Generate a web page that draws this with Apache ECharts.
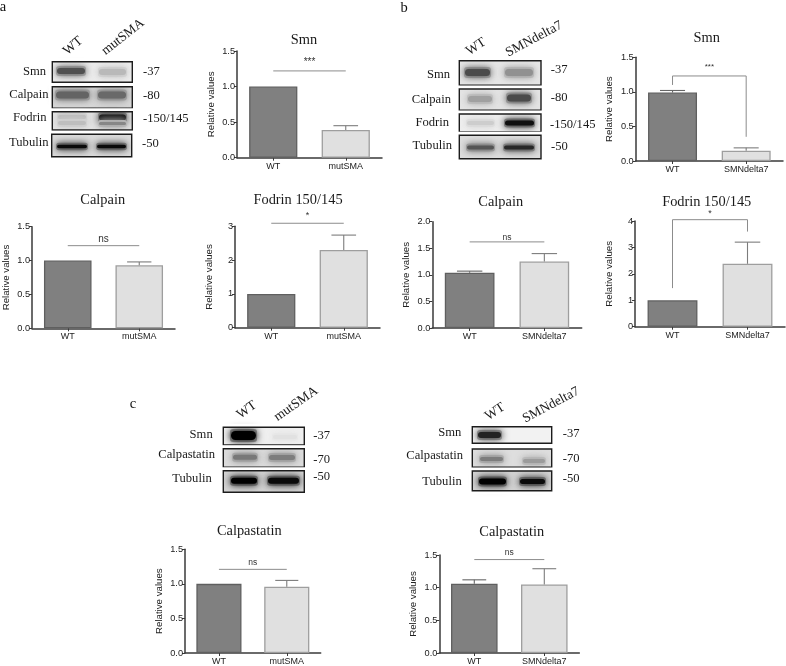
<!DOCTYPE html>
<html><head><meta charset="utf-8">
<style>html,body{margin:0;padding:0;background:#fff}#c{width:786px;height:666px}</style>
<script src="https://cdn.jsdelivr.net/npm/echarts@6/dist/echarts.min.js"></script>
</head><body><div id="c"></div>
<script>
// ---- data ----
const chartTitles = ['Smn','Calpain','Fodrin 150/145','Smn','Calpain','Fodrin 150/145','Calpastatin','Calpastatin'];
const chartCategories = [
  ['WT','mutSMA'],['WT','mutSMA'],['WT','mutSMA'],
  ['WT','SMNdelta7'],['WT','SMNdelta7'],['WT','SMNdelta7'],
  ['WT','mutSMA'],['WT','SMNdelta7']];
const barValues = [[1,0.39],[1,0.93],[1,2.3],[0.99,0.15],[1.04,1.25],[1,2.38],[1,0.96],[1.06,1.05]];
const errorTops = [[null,0.45],[null,0.98],[null,2.74],[1.02,0.19],[1.07,1.40],[null,3.2],[null,1.05],[1.12,1.29]];
const axisMaxes = [1.5,1.5,3,1.5,2,4,1.5,1.5];
const axisSteps = [0.5,0.5,1,0.5,0.5,1,0.5,0.5];
const sigLabels = ['***','ns','*','***','ns','*','ns','ns'];
const sigLevels = [1.22,1.22,3.09,1.23,1.62,4.05,1.21,1.43];
const sigDropLeft = [null,null,null,1.1,null,1.46,null,null];
const sigDropRight = [null,null,null,0.35,null,3.6,null,null];

// ---- layout ----
const gridBoxes = [ // left, right, top, bottom (px)
  [237,382,51,157.7],[31,175,226.7,328.3],[235,380,226.3,327.7],
  [635.7,783,57.3,161],[432.3,581.7,221.7,328],[635,785,221,326.7],
  [185,320.7,549.3,654],[439.3,579.3,555,653.7]];
const titleCentres = [[304,40.7],[102.7,200.7],[298,200.7],[706.7,38.3],[500.7,202.3],[706.7,202.3],[249.3,531.7],[511.7,532]];
const sigTextGaps = [9,6,8,9,4,6,7,7];
const sigTextSizes = [10,10,9,8,8.5,9,8.5,8.5];

const SANS = '"Liberation Sans", Arial, sans-serif';
const SERIF = '"Liberation Serif", "Times New Roman", serif';
const AXIS = '#3a3a3a';

const grids=[],xAxes=[],yAxes=[],series=[],titles=[];
gridBoxes.forEach((b,i)=>{
  grids.push({left:b[0],top:b[2],width:b[1]-b[0],height:b[3]-b[2],containLabel:false});
  titles.push({text:chartTitles[i],left:titleCentres[i][0],top:titleCentres[i][1]-7,textAlign:'center',padding:0,
    textStyle:{fontFamily:SERIF,fontSize:14.4,fontWeight:'normal',color:'#1a1a1a'}});
  xAxes.push({type:'category',gridIndex:i,data:chartCategories[i],
    axisLine:{lineStyle:{color:AXIS,width:1.5}},
    axisTick:{show:true,alignWithLabel:true,length:3,lineStyle:{color:AXIS,width:1}},
    axisLabel:{fontFamily:SANS,fontSize:9,color:'#222',margin:4,interval:0}});
  const step=axisSteps[i];
  yAxes.push({type:'value',gridIndex:i,min:0,max:axisMaxes[i],interval:step,
    name:'Relative values',nameLocation:'middle',nameRotate:90,nameGap:21,
    nameTextStyle:{fontFamily:SANS,fontSize:9.7,color:'#222'},
    splitLine:{show:false},
    axisLine:{show:true,lineStyle:{color:AXIS,width:1.5}},
    axisTick:{show:true,length:3,lineStyle:{color:AXIS,width:1}},
    axisLabel:{fontFamily:SANS,fontSize:9.2,color:'#222',margin:2,
      formatter:v=>step<1?v.toFixed(1):String(v)}});
  series.push({type:'bar',xAxisIndex:i,yAxisIndex:i,barWidth:'66.5%',silent:true,
    data:barValues[i].map((v,k)=>({value:v,itemStyle:k===0
      ?{color:'#808080',borderColor:'#5f5f5f',borderWidth:1.3}
      :{color:'#e0e0e0',borderColor:'#9e9e9e',borderWidth:1.3}}))});
  series.push({type:'custom',xAxisIndex:i,yAxisIndex:i,silent:true,z:3,
    data:errorTops[i].map((e,k)=>[k,barValues[i][k],e]).filter(d=>d[2]!==null),
    renderItem:(p,api)=>{
      const k=api.value(0),a=api.coord([k,api.value(1)]),t=api.coord([k,api.value(2)]);
      const cap=api.size([1,0])[0]*0.17;
      const col=k===0?'#666':'#7c7c7c';
      return {type:'group',children:[
        {type:'line',shape:{x1:a[0],y1:a[1],x2:t[0],y2:t[1]},style:{stroke:col,lineWidth:1.1}},
        {type:'line',shape:{x1:t[0]-cap,y1:t[1],x2:t[0]+cap,y2:t[1]},style:{stroke:col,lineWidth:1.1}}]};
    }});
  series.push({type:'custom',xAxisIndex:i,yAxisIndex:i,silent:true,z:4,
    data:[[0,1,sigLevels[i],sigDropLeft[i],sigDropRight[i]]],
    renderItem:(p,api)=>{
      const lv=sigLevels[i];
      const l=api.coord([0,lv]),r=api.coord([1,lv]);
      const pts=[];
      if(sigDropLeft[i]!==null)pts.push(api.coord([0,sigDropLeft[i]]));
      pts.push(l,r);
      if(sigDropRight[i]!==null)pts.push(api.coord([1,sigDropRight[i]]));
      return {type:'group',children:[
        {type:'polyline',shape:{points:pts},style:{fill:'none',stroke:'#8c8c8c',lineWidth:1}},
        {type:'text',style:{text:sigLabels[i],x:(l[0]+r[0])/2,y:l[1]-sigTextGaps[i],
          align:'center',verticalAlign:'middle',font:sigTextSizes[i]+'px '+SANS,fill:'#333'}}]};
    }});
});

// ---- western-blot panels: [x0,x1,y0,y1,background,[bands: x0,x1,yCentre,height,grey]] ----
const blotPanels = [
  [52.3,132.3,61.7,82.3,'#ececec',[[57,85,71,6,80],[99,126,72,6,185]]],
  [52.3,132.3,86.7,108.3,'#d8d8d8',[[56,89,95,7,100],[98,126,95,7,105]]],
  [52.3,132.3,111.7,130,'#e4e4e4',[[58,86,117,4,185],[58,86,123,4,190],[99,126,117.5,6,15],[99,126,123.5,3,135]]],
  [51.7,131.7,134.3,156.7,'#dcdcdc',[[57,87,146.5,3.5,10],[97,126,146.5,3.5,10]]],

  [459.3,541,60.7,85.3,'#e6e6e6',[[465,490,72.5,7,75],[505,533,72.5,7,145]]],
  [459.3,541,89,110.3,'#e4e4e4',[[468,492,99,6,160],[507,531,98,7,75]]],
  [459.3,541,114,132,'#eeeeee',[[467,494,123,4,205],[505,534,123,5,15]]],
  [459.3,541,135.3,158.7,'#dedede',[[467,494,147.5,4,85],[504,534,147.5,4,40]]],

  [223.3,304.3,427.3,445,'#efefef',[[231,256,435.5,9,0],[273,297,437,4,225]]],
  [223.3,304.3,448.7,467.3,'#dcdcdc',[[233,257,457.3,5,120],[269,295,457.5,5,125]]],
  [223.3,304.3,470.7,492.3,'#d4d4d4',[[231,257,480.7,6,0],[268,299,480.7,6,10]]],

  [472.3,551.7,426.7,443.3,'#f2f2f2',[[478,501,435,6,35]]],
  [472.3,551.7,449,467.3,'#dedede',[[480,503,459,4,125],[523,545,461,4,155]]],
  [472.3,551.7,471,490.7,'#d4d4d4',[[479,506,481.5,6,0],[520,545,481.5,5,10]]]
];
// [text, x, y, align]
const blotLabels = [
  ['Smn',46,71.5,'right'],['Calpain',48.5,94.5,'right'],['Fodrin',46.5,118,'right'],['Tubulin',48.5,143,'right'],
  ['-37',143,71.5,'left'],['-80',143,96,'left'],['-150/145',143,119,'left'],['-50',142,144,'left'],
  ['Smn',450,74.5,'right'],['Calpain',451,100,'right'],['Fodrin',449,122.5,'right'],['Tubulin',452,146,'right'],
  ['-37',550.7,70,'left'],['-80',550.7,97.5,'left'],['-150/145',550,124.5,'left'],['-50',551,146.5,'left'],
  ['Smn',212.7,435,'right'],['Calpastatin',215,455,'right'],['Tubulin',211.7,479,'right'],
  ['-37',313.3,435.5,'left'],['-70',313.3,460,'left'],['-50',313.3,477,'left'],
  ['Smn',461.3,432.5,'right'],['Calpastatin',463,456,'right'],['Tubulin',461.7,481.5,'right'],
  ['-37',562.7,433.5,'left'],['-70',562.7,458.5,'left'],['-50',562.7,479,'left']
];
// [text, cx, cy, degrees]
const laneLabels = [
  ['WT',73,46,40],['mutSMA',123,37,38],
  ['WT',476,46.7,33],['SMNdelta7',534,39,28],
  ['WT',246.7,410,35],['mutSMA',296,404,35],
  ['WT',495,411.7,33],['SMNdelta7',551,405,28]
];
const panelLetters = [['a',3,7],['b',404,8],['c',133,404]];

const graphic=[];
function mix(g,bgHex){const bg=parseInt(bgHex.slice(1,3),16);const v=Math.round(g*0.4+bg*0.6);return `rgb(${v},${v},${v})`;}
blotPanels.forEach(p=>{
  const [x0,x1,y0,y1,bg,bands]=p;
  graphic.push({type:'rect',shape:{x:x0,y:y0,width:x1-x0,height:y1-y0},style:{fill:bg},silent:true});
  bands.forEach(b=>{
    const halo=mix(b[4],bg), c=`rgb(${b[4]},${b[4]},${b[4]})`;
    graphic.push({type:'rect',shape:{x:b[0]-1,y:b[2]-b[3]/2-2,width:b[1]-b[0]+2,height:b[3]+4,r:3},
      style:{fill:halo,shadowBlur:8,shadowColor:halo},silent:true});
    graphic.push({type:'rect',shape:{x:b[0],y:b[2]-b[3]/2,width:b[1]-b[0],height:b[3],r:b[3]/2},
      style:{fill:c,shadowBlur:6,shadowColor:c},silent:true});
  });
  // trim anything blurred past the frame, then draw the frame
  graphic.push({type:'rect',shape:{x:x0-2,y:y0-2,width:x1-x0+4,height:y1-y0+4},
    style:{fill:'none',stroke:'#fff',lineWidth:3},silent:true});
  graphic.push({type:'rect',shape:{x:x0,y:y0,width:x1-x0,height:y1-y0},
    style:{fill:'none',stroke:'#1c1c1c',lineWidth:1.4},silent:true});
});
blotLabels.forEach(l=>graphic.push({type:'text',silent:true,x:l[1],y:l[2],
  style:{text:l[0],x:0,y:0,align:l[3],verticalAlign:'middle',font:'12.6px '+SERIF,fill:'#1a1a1a'}}));
laneLabels.forEach(l=>graphic.push({type:'text',silent:true,x:l[1],y:l[2],rotation:l[3]*Math.PI/180,
  style:{text:l[0],x:0,y:0,align:'center',verticalAlign:'middle',font:'13.5px '+SERIF,fill:'#1a1a1a'}}));
panelLetters.forEach(l=>graphic.push({type:'text',silent:true,x:l[1],y:l[2],
  style:{text:l[0],x:0,y:0,align:'center',verticalAlign:'middle',font:'14.5px '+SERIF,fill:'#111'}}));

const chart=echarts.init(document.getElementById('c'),null,{renderer:'canvas',width:786,height:666});
chart.setOption({animation:false,backgroundColor:'#fff',title:titles,grid:grids,xAxis:xAxes,yAxis:yAxes,series,graphic});
</script></body></html>
